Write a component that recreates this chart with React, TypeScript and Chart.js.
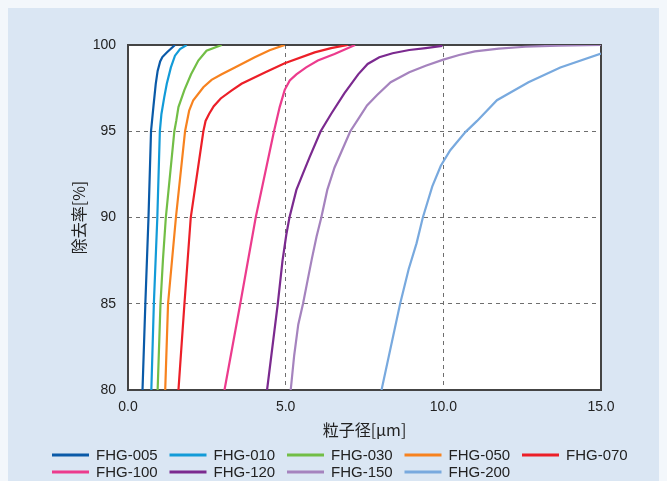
import React, { useEffect, useRef } from 'react';
import { Chart, registerables } from 'chart.js';

Chart.register(...registerables);

// ---- data ----
const seriesNames = ['FHG-005', 'FHG-010', 'FHG-030', 'FHG-050', 'FHG-070', 'FHG-100', 'FHG-120', 'FHG-150', 'FHG-200'];
const seriesColors = ['#0a5aa8', '#129bd8', '#72be46', '#f7821f', '#ec1f28', '#ec3b8d', '#7b2a8f', '#a583be', '#78a9de'];

const fhg005X = [0.46, 0.55, 0.65, 0.73, 0.81, 0.88, 0.94, 1.02, 1.09, 1.23, 1.49];
const fhg005Y = [80, 85, 90, 95, 96.5, 97.75, 98.5, 99.05, 99.3, 99.57, 100];

const fhg010X = [0.74, 0.82, 0.93, 1.01, 1.06, 1.15, 1.23, 1.36, 1.49, 1.65, 1.86];
const fhg010Y = [80, 85, 90, 95, 96.0, 96.98, 97.75, 98.7, 99.38, 99.77, 100];

const fhg030X = [0.94, 1.03, 1.11, 1.2, 1.47, 1.53, 1.6, 1.79, 2.0, 2.23, 2.49, 2.97];
const fhg030Y = [80, 85, 87.6, 90, 95, 95.6, 96.4, 97.4, 98.3, 99.1, 99.67, 100];

const fhg050X = [1.18, 1.27, 1.52, 1.81, 1.94, 2.07, 2.39, 2.65, 2.97, 3.39, 4.02, 4.49, 4.97];
const fhg050Y = [80, 85, 90, 95, 96.2, 96.8, 97.55, 97.98, 98.3, 98.7, 99.29, 99.7, 100];

const fhg070X = [1.6, 1.79, 1.99, 2.39, 2.46, 2.57, 2.72, 2.94, 3.28, 3.6, 4.34, 4.97, 5.92, 6.44, 6.97];
const fhg070Y = [80, 85, 90, 95, 95.6, 96.0, 96.45, 96.9, 97.35, 97.75, 98.4, 98.94, 99.57, 99.82, 100];

const fhg100X = [3.06, 3.56, 4.05, 4.63, 4.81, 4.97, 5.13, 5.34, 5.65, 6.02, 6.55, 7.2];
const fhg100Y = [80, 85, 90, 95, 96.4, 97.4, 97.94, 98.3, 98.7, 99.1, 99.48, 100];

const fhg120X = [4.41, 4.75, 4.9, 5.02, 5.12, 5.34, 5.55, 5.76, 6.11, 6.44, 6.86, 7.3, 7.6, 7.97, 8.39, 8.92, 9.44, 9.97];
const fhg120Y = [80, 85, 87.5, 89, 90, 91.6, 92.56, 93.5, 95, 96.0, 97.2, 98.3, 98.9, 99.29, 99.52, 99.71, 99.82, 99.95];

const fhg150X = [5.16, 5.27, 5.4, 5.55, 5.7, 5.83, 5.98, 6.13, 6.32, 6.55, 7.05, 7.3, 7.58, 7.9, 8.33, 8.92, 9.44, 10.0, 10.5, 11.0, 11.76, 12.6, 13.65, 15.0];
const fhg150Y = [80, 82, 83.8, 85, 86.4, 87.6, 88.9, 90, 91.6, 92.9, 95, 95.7, 96.5, 97.1, 97.84, 98.42, 98.8, 99.15, 99.42, 99.63, 99.79, 99.9, 99.96, 100];

const fhg200X = [8.04, 8.63, 8.9, 9.15, 9.35, 9.65, 9.92, 10.22, 10.7, 11.07, 11.7, 12.7, 13.71, 15.0];
const fhg200Y = [80, 85, 87.0, 88.5, 90, 91.8, 93.0, 93.9, 94.95, 95.6, 96.8, 97.84, 98.7, 99.5];

const seriesX = [fhg005X, fhg010X, fhg030X, fhg050X, fhg070X, fhg100X, fhg120X, fhg150X, fhg200X];
const seriesY = [fhg005Y, fhg010Y, fhg030Y, fhg050Y, fhg070Y, fhg100Y, fhg120Y, fhg150Y, fhg200Y];

const xTickValues = [0, 5, 10, 15];
const xTickLabels = ['0.0', '5.0', '10.0', '15.0'];
const yTickValues = [80, 85, 90, 95, 100];
const yTickLabels = ['80', '85', '90', '95', '100'];

const xTitle = '粒子径[μm]';
const yTitle = '除去率[%]';

// ---- styling ----
const LATIN = "'Liberation Sans', Arial, sans-serif";
const CJK = "'Noto Sans CJK JP', 'Liberation Sans', sans-serif";
const TEXT = '#222';

const backgroundPlugin = {
  id: 'bgPanel',
  beforeDraw(chart: any) {
    const { ctx, chartArea, width, height } = chart;
    ctx.save();
    ctx.fillStyle = '#dae6f3';
    ctx.fillRect(0, 0, width, height);
    ctx.fillStyle = '#ffffff';
    ctx.fillRect(chartArea.left, chartArea.top, chartArea.right - chartArea.left, chartArea.bottom - chartArea.top);
    ctx.restore();
  },
  beforeDatasetsDraw(chart: any) {
    const { ctx, chartArea } = chart;
    ctx.save();
    ctx.strokeStyle = '#444';
    ctx.lineWidth = 2;
    ctx.strokeRect(chartArea.left, chartArea.top, chartArea.right - chartArea.left, chartArea.bottom - chartArea.top);
    ctx.restore();
  },
};

const legendPlugin = {
  id: 'customLegend',
  afterDraw(chart: any) {
    const { ctx } = chart;
    const startX = 44;
    const stepX = 117.5;
    const rowY = [447, 464];
    const perRow = 5;
    ctx.save();
    ctx.font = `15px ${LATIN}`;
    ctx.textBaseline = 'middle';
    ctx.textAlign = 'left';
    chart.data.datasets.forEach((ds: any, i: number) => {
      const row = Math.floor(i / perRow);
      const col = i % perRow;
      const x = startX + col * stepX;
      const y = rowY[row];
      ctx.strokeStyle = ds.borderColor;
      ctx.lineWidth = 3;
      ctx.beginPath();
      ctx.moveTo(x, y);
      ctx.lineTo(x + 37, y);
      ctx.stroke();
      ctx.fillStyle = TEXT;
      ctx.fillText(ds.label, x + 44, y + 1);
    });
    ctx.restore();
  },
};

export default function App() {
  const ref = useRef<HTMLCanvasElement | null>(null);

  useEffect(() => {
    document.body.style.background = '#f3f7fb';
    document.body.style.overflow = 'hidden';
    const canvas = ref.current;
    if (!canvas) return;
    const datasets = seriesNames.map((name, i) => ({
      label: name,
      data: seriesX[i].map((x, j) => ({ x, y: seriesY[i][j] })),
      borderColor: seriesColors[i],
      backgroundColor: seriesColors[i],
      borderWidth: 2.2,
      pointRadius: 0,
      tension: 0,
      fill: false,
    }));
    const gridColor = (ctx: any) => {
      const v = ctx.tick && ctx.tick.value;
      const s = ctx.scale;
      if (v === s.min || v === s.max) return 'rgba(0,0,0,0)';
      return '#6e6e6e';
    };
    const chart = new Chart(canvas, {
      type: 'line',
      data: { datasets },
      plugins: [backgroundPlugin, legendPlugin],
      options: {
        responsive: false,
        animation: false,
        devicePixelRatio: 1,
        layout: { padding: { left: 61, right: 66, top: 37, bottom: 41 } },
        plugins: {
          legend: { display: false },
          tooltip: { enabled: false },
        },
        scales: {
          x: {
            type: 'linear',
            min: 0,
            max: 15,
            afterBuildTicks: (s: any) => {
              s.ticks = xTickValues.map((v) => ({ value: v }));
            },
            afterFit: (s: any) => {
              s.height = 50;
            },
            ticks: {
              padding: 9,
              maxRotation: 0,
              autoSkip: false,
              color: TEXT,
              font: { family: LATIN, size: 14 },
              callback: (v: any) => {
                const k = xTickValues.indexOf(Number(v));
                return k >= 0 ? xTickLabels[k] : '';
              },
            },
            grid: { color: gridColor, lineWidth: 1, drawTicks: false },
            border: { display: false, dash: [4, 4] },
            title: {
              display: true,
              text: xTitle,
              color: TEXT,
              font: { family: CJK, size: 16 },
              padding: { top: 0, bottom: 0 },
            },
          },
          y: {
            type: 'linear',
            min: 80,
            max: 100,
            afterBuildTicks: (s: any) => {
              s.ticks = yTickValues.map((v) => ({ value: v }));
            },
            afterFit: (s: any) => {
              s.width = 59;
            },
            ticks: {
              padding: 12,
              autoSkip: false,
              color: TEXT,
              font: { family: LATIN, size: 14 },
              callback: (v: any) => {
                const k = yTickValues.indexOf(Number(v));
                return k >= 0 ? yTickLabels[k] : '';
              },
            },
            grid: { color: gridColor, lineWidth: 1, drawTicks: false },
            border: { display: false, dash: [4, 4] },
            title: {
              display: true,
              text: yTitle,
              color: TEXT,
              font: { family: CJK, size: 16 },
              padding: { top: 0, bottom: 0 },
            },
          },
        },
      } as any,
    });
    return () => chart.destroy();
  }, []);

  return (
    <div style={{ width: 659, height: 473 }}>
      <canvas ref={ref} width={659} height={473} style={{ display: 'block', width: 659, height: 473 }} />
    </div>
  );
}
